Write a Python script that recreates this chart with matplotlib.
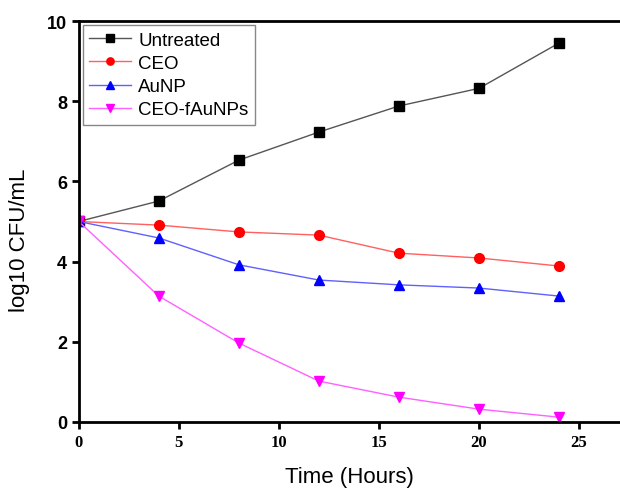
import matplotlib
matplotlib.use("Agg")
import matplotlib.pyplot as plt

hours = [0, 4, 8, 12, 16, 20, 24]
untreated = [5.0, 5.51, 6.53, 7.23, 7.88, 8.32, 9.45]
ceo = [5.0, 4.91, 4.74, 4.66, 4.21, 4.09, 3.89]
aunp = [5.0, 4.59, 3.92, 3.54, 3.42, 3.34, 3.14]
ceo_faunps = [5.0, 3.14, 1.97, 1.02, 0.62, 0.32, 0.12]

series = [
    ("Untreated", untreated, "black", "#555555", "s"),
    ("CEO", ceo, "red", "#ff6060", "o"),
    ("AuNP", aunp, "blue", "#6060ff", "^"),
    ("CEO-fAuNPs", ceo_faunps, "magenta", "#ff60ff", "v"),
]

fig = plt.figure(figsize=(6.2, 4.89), dpi=100)
ax = fig.add_axes([0.127, 0.135, 0.873, 0.82])

for name, vals, mc, lc, m in series:
    ax.plot(hours, vals, color=lc, lw=1.0, marker=m, markersize=7,
            markerfacecolor=mc, markeredgecolor=mc, label=name)

ax.set_xlim(0, 27.05)
ax.set_ylim(0, 10)
ax.set_xticks([0, 5, 10, 15, 20, 25])
ax.set_yticks([0, 2, 4, 6, 8, 10])
ax.spines["right"].set_visible(False)
for s in ["left", "bottom", "top"]:
    ax.spines[s].set_linewidth(2.0)
ax.tick_params(direction="out", length=5, width=2)
for lab in ax.get_yticklabels():
    lab.set_fontfamily("Liberation Sans")
    lab.set_fontweight("bold")
    lab.set_fontsize(13)
for lab in ax.get_xticklabels():
    lab.set_fontfamily("Liberation Serif")
    lab.set_fontweight("bold")
    lab.set_fontsize(12)

ax.set_xlabel("Time (Hours)", fontfamily="Liberation Sans", fontsize=16, labelpad=12)
ax.set_ylabel("log10 CFU/mL", fontfamily="Liberation Sans", fontsize=16, labelpad=12)
ax.yaxis.set_label_coords(-0.09, 0.455)

leg = ax.legend(loc="upper left", bbox_to_anchor=(0.0, 1.0), fancybox=False,
                frameon=True, edgecolor="#888888", framealpha=1.0,
                prop={"family": "Liberation Sans", "size": 13.5},
                handlelength=2.2, labelspacing=0.32, borderpad=0.35,
                markerscale=0.75, handletextpad=0.4, borderaxespad=0.22)
leg.get_frame().set_linewidth(1.0)

fig.savefig("out.png", dpi=100)
